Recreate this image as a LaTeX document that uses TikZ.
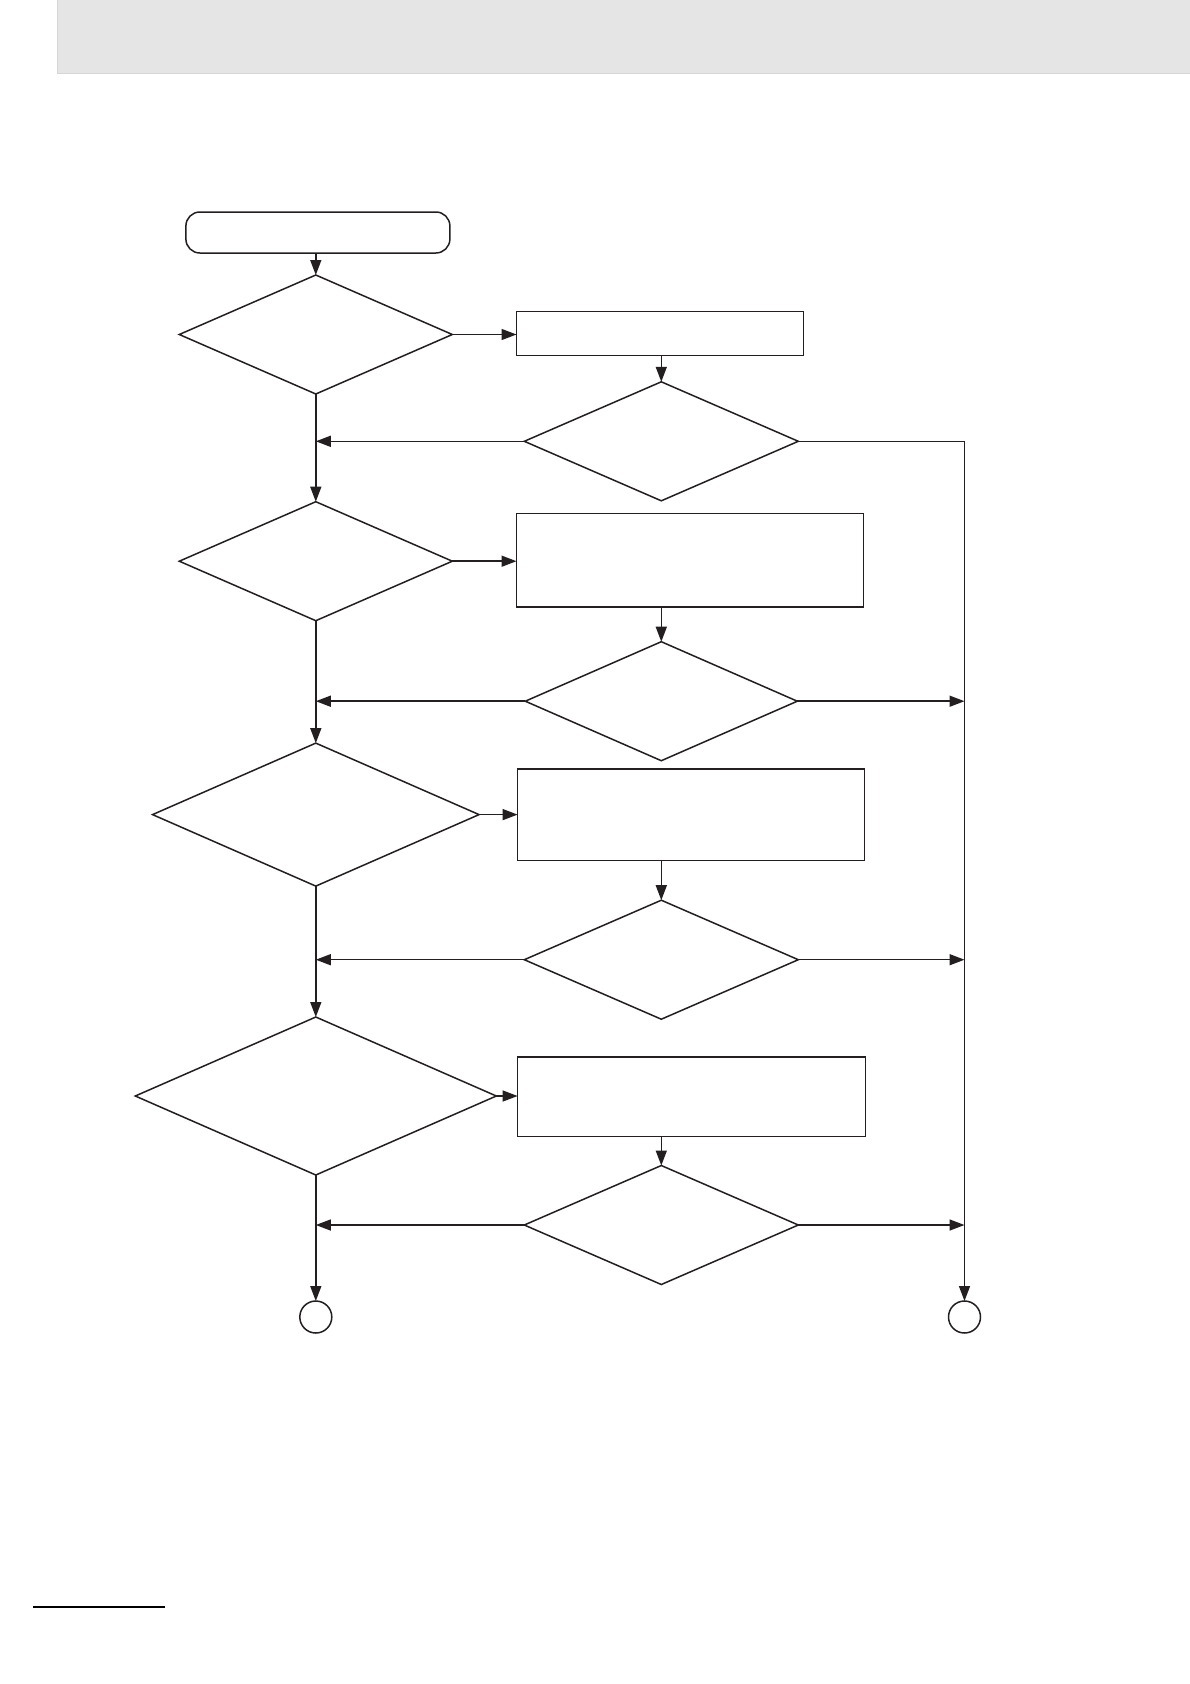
\documentclass[tikz,border=0pt]{standalone}
\usetikzlibrary{shapes.geometric,arrows.meta}
\definecolor{ink}{HTML}{231F20}
\tikzset{
  base/.style={draw=ink, line width=1.5pt, inner sep=0pt, outer sep=0pt},
  dia/.style={base, shape=diamond},
  box/.style={base, rectangle},
  startbox/.style={base, rectangle, rounded corners=14pt},
  conn/.style={circle, base},
  flow/.style={draw=ink, line width=1.5pt, -{Triangle[length=15pt,width=11pt]}},
  plain/.style={draw=ink, line width=1.5pt}
}
\begin{document}
\begin{tikzpicture}[x=1pt,y=-1pt]
\useasboundingbox (0,0) rectangle (1190,1684);
% header band
\fill[black!10] (57,0) rectangle (1190,73);
\draw[black!16, line width=0.8pt] (57,0) -- (57,73) -- (1190,73);
% footer rule
\draw[black, line width=2pt] (33,1607) -- (165,1607);

% nodes
\node[startbox, minimum width=264pt, minimum height=41pt] (start) at (317.9,232.5) {};
\node[dia, minimum width=273pt, minimum height=119pt] (d1) at (315.8,334.5) {};
\node[box, minimum width=287pt, minimum height=44pt] (b1) at (660,333.5) {};
\node[dia, minimum width=274pt, minimum height=119pt] (d2) at (661.3,441.3) {};
\node[dia, minimum width=273pt, minimum height=119pt] (d3) at (315.8,561.2) {};
\node[box, minimum width=347pt, minimum height=93.5pt] (b2) at (690,560) {};
\node[dia, minimum width=272pt, minimum height=119pt] (d4) at (661.3,701.2) {};
\node[dia, minimum width=326.5pt, minimum height=143pt] (d5) at (315.8,814.6) {};
\node[box, minimum width=347pt, minimum height=91.3pt] (b3) at (691.1,814.6) {};
\node[dia, minimum width=274pt, minimum height=119pt] (d6) at (661.3,959.7) {};
\node[dia, minimum width=361pt, minimum height=158pt] (d7) at (315.8,1096) {};
\node[box, minimum width=348pt, minimum height=79.5pt] (b4) at (691.6,1096.5) {};
\node[dia, minimum width=274pt, minimum height=119pt] (d8) at (661.3,1225) {};
\node[conn, minimum size=32pt] (c1) at (315.8,1317) {};
\node[conn, minimum size=32pt] (c2) at (964.5,1317) {};

% left column
\draw[flow] (start.south -| d1.north) -- (d1.north);
\draw[flow] (d1.south) -- (d3.north);
\draw[flow] (d3.south) -- (d5.north);
\draw[flow] (d5.south) -- (d7.north);
\draw[flow] (d7.south) -- (c1.north);

% to boxes
\draw[flow] (d1.east) -- (d1.east -| b1.west);
\draw[flow] (d3.east) -- (d3.east -| b2.west);
\draw[flow] (d5.east) -- (d5.east -| b3.west);
\draw[flow] (d7.east) -- (d7.east -| b4.west);

% boxes to diamonds
\draw[flow] (b1.south -| d2.north) -- (d2.north);
\draw[flow] (b2.south -| d4.north) -- (d4.north);
\draw[flow] (b3.south -| d6.north) -- (d6.north);
\draw[flow] (b4.south -| d8.north) -- (d8.north);

% returns to left column
\draw[flow] (d2.west) -- (d2.west -| d1.south);
\draw[flow] (d4.west) -- (d4.west -| d1.south);
\draw[flow] (d6.west) -- (d6.west -| d1.south);
\draw[flow] (d8.west) -- (d8.west -| d1.south);

% right column
\draw[flow] (d2.east) -- (d2.east -| c2.north) -- (c2.north);
\draw[flow] (d4.east) -- (d4.east -| c2.north);
\draw[flow] (d6.east) -- (d6.east -| c2.north);
\draw[flow] (d8.east) -- (d8.east -| c2.north);
\end{tikzpicture}
\end{document}
